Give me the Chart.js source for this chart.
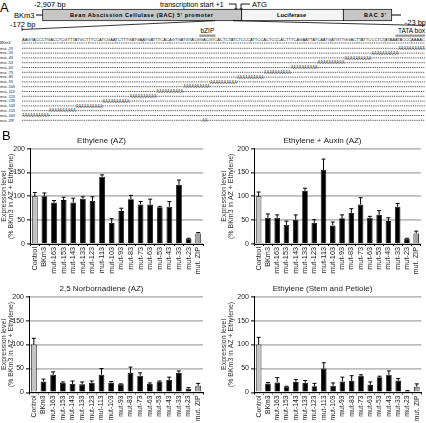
<!DOCTYPE html>
<html>
<head>
<meta charset="utf-8">
<script src="https://cdn.jsdelivr.net/npm/chart.js@4/dist/chart.umd.min.js"></script>
<style>
body { margin: 0; background: #fff; font-family: "Liberation Sans", Arial, sans-serif; }
#page { position: relative; width: 426px; height: 423px; overflow: hidden; }
.pane { position: absolute; }
</style>
</head>
<body>
<div id="page">
  <svg id="diagram" width="426" height="128" style="position:absolute;left:0;top:0"></svg>
  <div class="pane" style="left:0;top:134px;width:213px;height:146px"><canvas id="c1"></canvas></div>
  <div class="pane" style="left:220px;top:134px;width:206px;height:146px"><canvas id="c2"></canvas></div>
  <div class="pane" style="left:0;top:282px;width:213px;height:141px"><canvas id="c3"></canvas></div>
  <div class="pane" style="left:220px;top:282px;width:206px;height:141px"><canvas id="c4"></canvas></div>
  <div class="pane" style="left:2px;top:128px;font-size:13px;z-index:5">B</div>
</div>
<script>
// ---- data ----
const categories = ["Control","BKm3","mut-163","mut-153","mut-143","mut-133","mut-123","mut-113","mut-103",
  "mut-93","mut-83","mut-73","mut-63","mut-53","mut-43","mut-33","mut-23","mut. ZIP"];

const ethyleneAZ     = [100,100,87,92,87,95,90,141,44,69,94,83,83,77,78,124,11,22];
const ethyleneAZErr  = [8,7,4,6,9,4,9,4,9,6,8,6,11,2,11,10,1,2];
const auxinAZ        = [100,55,55,40,51,111,44,155,39,54,65,83,55,61,48,78,11,22];
const auxinAZErr     = [9,8,6,8,10,6,7,23,7,7,9,14,3,9,7,7,1,5];
const norbAZ         = [100,23,37,20,18,17,20,37,21,17,41,35,18,23,26,41,8,14];
const norbAZErr      = [13,5,6,2,6,5,4,13,2,1,12,6,2,1,6,4,2,5];
const stemPetiole    = [100,19,21,12,22,20,13,50,14,23,24,35,16,32,37,25,3,12];
const stemPetioleErr = [15,2,10,1,5,5,6,12,6,9,11,2,6,2,8,4,1,6];

const yTicks = [0, 50, 100, 150, 200];

// panel A
const mutSites = [23,33,43,53,63,73,83,93,103,113,123,133,143,153,163];
const seqFrom = -172, seqTo = -23;
const zipSites = [-105, -104];
const promoterSeq = "AAGTACCCTGACCTCGTTTATGCTTTCCATCGAATCTTTGATGAATGATTTCACAGTGATGTACGGACGTCACTCTATCTCCCATTCCACTCCCACTTTCAGAATTATCAATGATGTTGGACTTATTCCCTCTATAAATACCCAAAAC";

// ---- panel A schematic ----
const NS = "http://www.w3.org/2000/svg";
const svg = document.getElementById("diagram");
function el(tag, attrs, text) {
  const e = document.createElementNS(NS, tag);
  for (const k in attrs) e.setAttribute(k, attrs[k]);
  if (text !== undefined) e.textContent = text;
  svg.appendChild(e);
  return e;
}
const F = "Liberation Sans, Arial, sans-serif";
el("text", {x: 0, y: 12, "font-size": 13, "font-family": F}, "A");
el("text", {x: 34, y: 6.5, "font-size": 7.5, "font-family": F}, "-2,907 bp");
el("text", {x: 160, y: 6.5, "font-size": 7, "font-family": F}, "transcription start +1");
el("path", {d: "M229 4 H236 V9", stroke: "#000", fill: "none", "stroke-width": 0.9});
el("path", {d: "M250 4 H241 V9", stroke: "#000", fill: "none", "stroke-width": 0.9});
el("polygon", {points: "234.2,8.5 237.8,8.5 236,11.5", fill: "#000"});
el("polygon", {points: "239.2,8.5 242.8,8.5 241,11.5", fill: "#000"});
el("text", {x: 252, y: 6.5, "font-size": 7.5, "font-family": F}, "ATG");
el("text", {x: 14, y: 17.5, "font-size": 7.5, "font-family": F}, "BKm3");
el("line", {x1: 36, y1: 15, x2: 43, y2: 15, stroke: "#000", "stroke-width": 1});
el("line", {x1: 391, y1: 15, x2: 401, y2: 15, stroke: "#000", "stroke-width": 1});
el("rect", {x: 42.7, y: 9.3, width: 199, height: 11.4, fill: "#c6c6c6", stroke: "#000", "stroke-width": 0.7});
el("rect", {x: 241.7, y: 9.3, width: 101.6, height: 11.4, fill: "#f4f4f4", stroke: "#000", "stroke-width": 0.7});
el("rect", {x: 343.3, y: 9.3, width: 48.4, height: 11.4, fill: "#c6c6c6", stroke: "#000", "stroke-width": 0.7});
el("text", {x: 70, y: 17, "font-size": 5.6, "font-weight": "bold", "font-family": F, textLength: 143, lengthAdjust: "spacing"},
  "Bean Abscission Cellulase (BAC) 5' promoter");
el("text", {x: 277, y: 17, "font-size": 5.6, "font-weight": "bold", "font-family": F, textLength: 29, lengthAdjust: "spacing"}, "Luciferase");
el("text", {x: 364, y: 17, "font-size": 5.6, "font-weight": "bold", "font-family": F, textLength: 22, lengthAdjust: "spacing"}, "BAC 3'");
el("text", {x: 10, y: 26.5, "font-size": 7.5, "font-family": F}, "-172 bp");
el("text", {x: 426, y: 24.5, "font-size": 7.5, "font-family": F, "text-anchor": "end"}, "-23 bp");
el("line", {x1: 22, y1: 29.5, x2: 215, y2: 20.7, stroke: "#000", "stroke-width": 0.8});
el("line", {x1: 22, y1: 27.5, x2: 22, y2: 31, stroke: "#000", "stroke-width": 0.8});
el("line", {x1: 233, y1: 20.7, x2: 425, y2: 25.5, stroke: "#000", "stroke-width": 0.8});

const seqX0 = 22, seqX1 = 425;
const ntW = (seqX1 - seqX0) / (seqTo - seqFrom + 1);
const ntX = pos => seqX0 + (pos - seqFrom) * ntW;   // left edge of a nucleotide

// bZIP and TATA marks
el("rect", {x: ntX(-106), y: 34.5, width: 6 * ntW, height: 2.3, fill: "#999"});
el("text", {x: ntX(-106) + 3 * ntW, y: 33, "font-size": 6.5, "font-family": F, "text-anchor": "middle"}, "bZIP");
el("rect", {x: ntX(-33), y: 34.5, width: 11 * ntW, height: 2.3, fill: "#999"});
el("text", {x: 425, y: 33, "font-size": 6.5, "font-family": F, "text-anchor": "end"}, "TATA box");
el("text", {x: seqX0, y: 40.8, "font-size": 4.3, "font-family": F, fill: "#111", textLength: seqX1 - seqX0, lengthAdjust: "spacingAndGlyphs"}, promoterSeq);
for (let p = seqFrom + 5; p <= seqTo; p += 10) {
  el("line", {x1: ntX(p), y1: 41.6, x2: ntX(p), y2: 42.6, stroke: "#444", "stroke-width": 0.6});
}

const dash = {stroke: "#333", "stroke-width": 0.8, "stroke-dasharray": "1.3 0.9"};
const rows = [{label: "BKm3", span: null}];
mutSites.forEach(n => rows.push({label: "mut.-" + n, span: [-(n + 9), -n]}));
rows.push({label: "mut. ZIP", span: zipSites});
rows.forEach((r, i) => {
  const y = i === 0 ? 43 : 48.3 + (i - 1) * 4.8;
  el("text", {x: 0, y: y + 1.3, "font-size": 3.8, "font-family": F, fill: "#222"}, r.label);
  if (!r.span) {
    el("line", Object.assign({x1: seqX0, y1: y, x2: seqX1, y2: y}, dash));
    return;
  }
  const a = ntX(r.span[0]), b = ntX(r.span[1]) + ntW;
  if (a > seqX0) el("line", Object.assign({x1: seqX0, y1: y, x2: a, y2: y}, dash));
  if (b < seqX1) el("line", Object.assign({x1: b, y1: y, x2: seqX1, y2: y}, dash));
  const n = r.span[1] - r.span[0] + 1;
  el("text", {x: a, y: y + 1.6, "font-size": 4.6, "font-family": F, fill: "#111", textLength: b - a, lengthAdjust: "spacingAndGlyphs"}, "A".repeat(n));
});

// ---- panel B charts ----
const errorBars = {
  id: "errorBars",
  afterDatasetsDraw(chart) {
    const ctx = chart.ctx, y = chart.scales.y;
    const ds = chart.data.datasets[0];
    chart.getDatasetMeta(0).data.forEach((bar, i) => {
      const base = y.getPixelForValue(ds.data[i]);
      const top = y.getPixelForValue(ds.data[i] + ds.errors[i]);
      ctx.save();
      ctx.strokeStyle = "#000";
      ctx.lineWidth = 1;
      ctx.beginPath();
      ctx.moveTo(bar.x, base);
      ctx.lineTo(bar.x, top);
      ctx.moveTo(bar.x - 2, top);
      ctx.lineTo(bar.x + 2, top);
      ctx.stroke();
      ctx.restore();
    });
  }
};

const fillCols = categories.map(c => c === "Control" ? "#c4c4c4" : (c === "mut. ZIP" ? "#a4a4a4" : "#000"));
const edgeCols = categories.map(() => "#000");

function makeChart(id, title, values, errs, yWidth, xHeight, padRight, labelSize) {
  new Chart(document.getElementById(id), {
    type: "bar",
    data: {
      labels: categories,
      datasets: [{
        data: values,
        errors: errs,
        backgroundColor: fillCols,
        borderColor: edgeCols,
        borderWidth: 0.8,
        barPercentage: 0.6,
        categoryPercentage: 1.0
      }]
    },
    options: {
      responsive: true,
      maintainAspectRatio: false,
      animation: false,
      layout: { padding: { left: 0, right: padRight, top: 0, bottom: 0 } },
      plugins: {
        legend: { display: false },
        tooltip: { enabled: false },
        title: {
          display: true,
          text: title,
          color: "#222",
          font: { size: 8, family: F, weight: "normal" },
          padding: { top: 2, bottom: 3 }
        }
      },
      scales: {
        x: {
          grid: { display: true, drawOnChartArea: false, tickLength: 2, tickColor: "#000", tickWidth: 1 },
          border: { color: "#000", width: 1 },
          ticks: {
            autoSkip: false,
            minRotation: 90,
            maxRotation: 90,
            padding: 1,
            color: "#222",
            font: { size: labelSize, family: F }
          },
          afterFit(s) { s.height = xHeight; }
        },
        y: {
          min: 0,
          max: 200,
          afterBuildTicks(s) { s.ticks = yTicks.map(v => ({ value: v })); },
          grid: { color: "#bdbdbd", lineWidth: 1.8, tickColor: "#000", tickLength: 3, tickWidth: 1 },
          border: { color: "#000", width: 1 },
          ticks: { color: "#222", padding: 2, font: { size: 7, family: F } },
          title: {
            display: true,
            text: ["Expression level", "(% BKm3 in AZ + Ethylene)"],
            color: "#333",
            padding: 0,
            font: { size: 7, family: F, lineHeight: 1.05 }
          },
          afterFit(s) { s.width = yWidth; }
        }
      }
    },
    plugins: [errorBars]
  });
}

makeChart("c1", "Ethylene (AZ)", ethyleneAZ, ethyleneAZErr, 30, 36, 10, 7.3);
makeChart("c2", "Ethylene + Auxin (AZ)", auxinAZ, auxinAZErr, 34, 36, 1, 7.3);
makeChart("c3", "2,5 Norbornadiene (AZ)", norbAZ, norbAZErr, 29, 30.5, 10, 6.8);
makeChart("c4", "Ethylene (Stem and Petiole)", stemPetiole, stemPetioleErr, 34, 30.5, 1, 6.8);
</script>
</body>
</html>
